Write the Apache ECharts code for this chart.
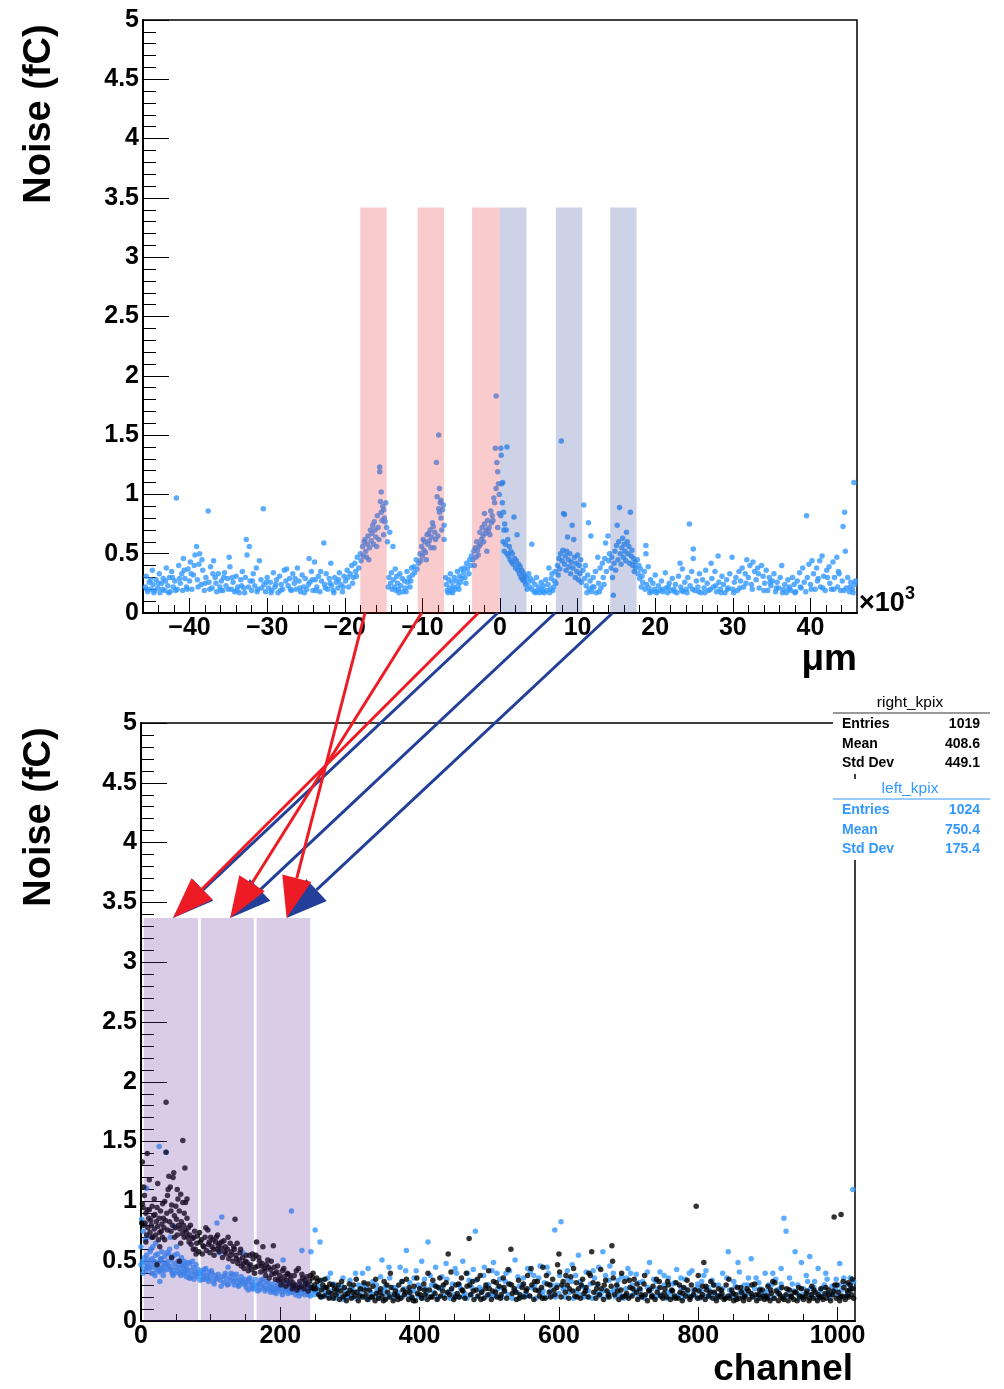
<!DOCTYPE html>
<html><head><meta charset="utf-8">
<script src="https://cdn.jsdelivr.net/npm/echarts@6/dist/echarts.min.js"></script>
<style>html,body{margin:0;padding:0;background:#fff}#c{width:1004px;height:1389px}</style>
</head><body><div id="c"></div>
<script>
const FONT = '"Liberation Sans", Arial, Helvetica, sans-serif';

// ---- tick values ----
const topXMajor = [-40,-30,-20,-10,0,10,20,30,40];
const topXMinor = [-44,-42,-38,-36,-34,-32,-28,-26,-24,-22,-18,-16,-14,-12,-8,-6,-4,-2,2,4,6,8,12,14,16,18,22,24,26,28,32,34,36,38,42,44];
const botXMajor = [0,200,400,600,800,1000];
const botXMinor = [50,100,150,250,300,350,450,500,550,650,700,750,850,900,950];
const yMajor = [0,0.5,1,1.5,2,2.5,3,3.5,4,4.5,5];
const yMinor = [0.1,0.2,0.3,0.4,0.6,0.7,0.8,0.9,1.1,1.2,1.3,1.4,1.6,1.7,1.8,1.9,2.1,2.2,2.3,2.4,2.6,2.7,2.8,2.9,3.1,3.2,3.3,3.4,3.6,3.7,3.8,3.9,4.1,4.2,4.3,4.4,4.6,4.7,4.8,4.9];

// ---- shaded regions ----
const pinkBands = [[-18.0,-14.6],[-10.6,-7.2],[-3.6,0]];
const blueBands = [[0,3.4],[7.2,10.6],[14.2,17.6]];
const topBandHeight = 3.42;
const channelBands = [[4,82],[86,162],[166,243]];
const channelBandHeight = 3.37;

// ---- arrows: [start position (x10^3 um), target channel] ----
const redArrows = [[-17.4,209],[-10.1,128],[-2.8,46]];
const blueArrows = [[-0.3,46],[7.1,128],[14.5,209]];

// ---- stats ----
const statLabels = ['Entries','Mean','Std Dev'];
const rightStats = ['1019','408.6','449.1'];
const leftStats = ['1024','750.4','175.4'];

// ---- top panel: noise vs position (x10^3 um, fC) ----
const topPoints = [
[-45.7,0.22],[-45.6,0.31],[-45.4,0.18],[-45.2,0.26],[-45.0,0.2],[-44.8,0.36],[-44.7,0.24],[-44.5,0.19],[-44.3,0.28],[-44.1,0.21],[-43.9,0.33],[-43.8,0.17],[-43.6,0.25],[-43.4,0.29],[-43.2,0.19],[-43.0,0.38],[-42.8,0.23],[-42.6,0.3],[-42.5,0.18],[-42.3,0.35],[-42.1,0.22],[-41.9,0.27],[-41.7,0.97],[-41.6,0.2],[-41.4,0.4],[-41.2,0.25],[-41.0,0.33],[-40.9,0.19],[-40.8,0.46],[-40.6,0.29],[-40.4,0.22],[-40.2,0.37],[-40.0,0.27],[-39.9,0.43],[-39.7,0.2],[-39.5,0.32],[-39.3,0.49],[-39.1,0.56],[-39.0,0.28],[-38.8,0.41],[-38.7,0.5],[-38.5,0.24],[-38.3,0.36],[-38.1,0.19],[-37.9,0.3],[-37.6,0.86],[-37.5,0.26],[-37.3,0.39],[-37.1,0.21],[-36.9,0.44],[-36.7,0.3],[-36.5,0.18],[-36.3,0.33],[-36.1,0.22],[-35.9,0.27],[-35.7,0.19],[-35.5,0.34],[-35.3,0.23],[-35.1,0.29],
[-34.9,0.47],[-34.8,0.39],[-34.6,0.2],[-34.4,0.26],[-34.2,0.18],[-34.0,0.31],[-33.8,0.22],[-33.6,0.17],[-33.4,0.28],[-33.2,0.35],[-33.0,0.21],[-32.8,0.3],[-32.7,0.62],[-32.6,0.49],[-32.3,0.56],[-32.2,0.27],[-32.0,0.19],[-31.8,0.33],[-31.6,0.23],[-31.4,0.38],[-31.2,0.2],[-31.0,0.44],[-30.8,0.28],[-30.5,0.88],[-30.4,0.24],[-30.2,0.18],[-30.0,0.3],[-29.8,0.21],[-29.6,0.26],[-29.4,0.19],[-29.2,0.34],[-29.0,0.22],[-28.8,0.28],[-28.6,0.17],[-28.4,0.31],[-28.2,0.24],[-28.0,0.2],[-27.8,0.36],[-27.5,0.37],[-27.3,0.23],[-27.1,0.29],[-26.9,0.19],[-26.7,0.33],[-26.5,0.25],[-26.3,0.2],[-26.1,0.38],[-25.9,0.27],[-25.7,0.18],[-25.5,0.32],[-25.3,0.22],[-25.1,0.29],[-24.9,0.2],[-24.6,0.46],[-24.5,0.26],[-24.3,0.35],[-24.1,0.19],[-23.9,0.43],[-23.8,0.28],[-23.6,0.22],[-23.4,0.31],[-23.2,0.18],[-23.0,0.27],[-22.7,0.59],[-22.6,0.24],[-22.4,0.33],[-22.2,0.2],[-22.0,0.29],[-21.8,0.42],[-21.7,0.23],[-21.5,0.19],[-21.3,0.3],[-21.1,0.26],[-20.9,0.21],[-20.7,0.34],[-20.5,0.24],[-20.3,0.18],[-20.1,0.31],
[-19.9,0.27],[-19.7,0.36],[-19.5,0.22],[-19.3,0.33],[-19.1,0.4],[-18.9,0.3],[-18.7,0.42],[-18.6,0.35],[-18.4,0.47],[-18.2,0.38],[-18.0,0.5],[-17.9,0.44],
[-17.7,0.56],[-17.6,0.48],[-17.5,0.6],[-17.4,0.62],[-17.3,0.52],[-17.2,0.47],[-17.1,0.58],[-17.0,0.65],[-16.9,0.45],[-16.8,0.55],[-16.7,0.7],[-16.6,0.61],[-16.5,0.67],[-16.4,0.74],[-16.3,0.58],[-16.2,0.77],[-16.1,0.7],[-16.0,0.64],[-15.9,0.56],[-15.8,0.82],[-15.7,0.72],[-15.6,0.62],[-15.5,1.23],[-15.5,1.19],[-15.4,0.94],[-15.3,1.02],[-15.3,0.85],[-15.2,0.78],[-15.1,0.9],[-15.0,0.87],[-15.0,0.66],[-14.9,0.8],[-14.8,0.77],[-14.7,0.93],[-14.6,0.72],[-14.5,0.6],
[-14.3,0.3],[-14.2,0.68],[-14.1,0.25],[-14.0,0.34],[-13.9,0.2],[-13.8,0.56],[-13.7,0.28],[-13.6,0.22],[-13.5,0.37],[-13.4,0.19],[-13.3,0.31],[-13.2,0.25],[-13.0,0.17],[-12.9,0.33],[-12.8,0.23],[-12.6,0.29],[-12.5,0.18],[-12.3,0.27],[-12.2,0.21],[-12.0,0.35],[-11.9,0.26],[-11.7,0.3],[-11.6,0.22],[-11.4,0.38],[-11.3,0.32],[-11.1,0.39],[-11.0,0.34],[-10.8,0.45],[-10.7,0.37],[-10.5,0.42],
[-10.3,0.5],[-10.2,0.44],[-10.1,0.56],[-10.0,0.48],[-9.9,0.62],[-9.8,0.53],[-9.7,0.6],[-9.6,0.51],[-9.5,0.45],[-9.4,0.66],[-9.3,0.58],[-9.2,0.67],[-9.1,0.61],[-9.0,0.7],[-8.9,0.55],[-8.8,0.64],[-8.7,0.76],[-8.6,0.73],[-8.5,0.55],[-8.4,0.68],[-8.3,0.62],[-8.2,1.27],[-8.1,0.98],[-8.0,0.65],[-7.9,1.5],[-7.9,0.88],[-7.8,1.05],[-7.8,0.85],[-7.7,0.93],[-7.6,0.95],[-7.6,0.8],[-7.5,0.7],[-7.4,0.87],[-7.3,0.91],[-7.2,0.74],[-7.2,0.62],
[-7.0,0.3],[-6.9,0.24],[-6.8,0.19],[-6.7,0.17],[-6.6,0.28],[-6.5,0.21],[-6.4,0.33],[-6.3,0.18],[-6.2,0.26],[-6.0,0.22],[-5.9,0.3],[-5.8,0.2],[-5.6,0.27],[-5.5,0.35],[-5.4,0.23],[-5.2,0.31],[-5.1,0.26],[-5.0,0.37],[-4.9,0.29],[-4.7,0.34],[-4.6,0.38],[-4.5,0.3],[-4.3,0.42],[-4.2,0.37],[-4.0,0.33],[-3.9,0.45],[-3.8,0.4],[-3.7,0.48],
[-3.5,0.45],[-3.4,0.52],[-3.3,0.4],[-3.2,0.55],[-3.1,0.47],[-3.0,0.6],[-2.9,0.53],[-2.8,0.49],[-2.7,0.56],[-2.6,0.68],[-2.5,0.58],[-2.4,0.62],[-2.3,0.72],[-2.2,0.65],[-2.1,0.6],[-2.0,0.84],[-2.0,0.75],[-1.9,0.67],[-1.8,0.7],[-1.7,0.52],[-1.6,0.78],[-1.5,0.69],[-1.4,0.72],[-1.3,0.66],[-1.2,0.86],[-1.1,0.76],[-1.0,0.82],[-0.9,0.78],[-0.8,0.97],[-0.7,0.93],[-0.6,1.39],[-0.5,1.83],[-0.5,1.05],[-0.4,1.27],[-0.3,1.19],[-0.3,0.72],[-0.2,1.09],[-0.1,0.84],[-0.1,1.0],
[0.1,1.39],[0.1,0.82],[0.15,1.33],[0.2,1.09],[0.3,0.93],[0.35,1.1],[0.4,0.6],[0.45,0.85],[0.5,0.7],[0.55,0.52],[0.6,0.75],[0.7,0.58],[0.8,0.7],[0.9,1.4],[0.9,0.5],[1.0,0.62],[1.1,0.48],[1.2,0.56],[1.3,0.45],[1.4,0.52],[1.5,0.43],[1.6,0.5],[1.7,0.41],[1.8,0.81],[1.9,0.46],[2.0,0.38],[2.1,0.44],[2.2,0.66],[2.3,0.36],[2.4,0.41],[2.5,0.33],[2.6,0.39],[2.7,0.3],[2.8,0.36],[2.9,0.28],[3.0,0.34],[3.1,0.27],[3.2,0.31],[3.3,0.24],[3.4,0.3],
[3.6,0.26],[3.7,0.33],[3.8,0.22],[3.9,0.29],[4.1,0.58],[4.1,0.2],[4.2,0.27],[4.4,0.18],[4.5,0.24],[4.7,0.3],[4.8,0.19],[5.0,0.22],[5.1,0.17],[5.3,0.26],[5.4,0.2],[5.6,0.23],[5.7,0.17],[5.9,0.28],[6.0,0.19],[6.2,0.24],[6.3,0.38],[6.5,0.2],[6.6,0.29],[6.7,0.33],[6.9,0.22],[7.0,0.27],[7.1,0.35],[7.2,0.25],
[7.4,0.4],[7.5,0.32],[7.6,0.46],[7.7,0.37],[7.8,0.5],[7.9,1.45],[8.0,0.44],[8.1,0.53],[8.2,0.84],[8.3,0.83],[8.3,0.41],[8.4,0.48],[8.5,0.36],[8.6,0.52],[8.7,0.64],[8.8,0.45],[8.9,0.39],[9.0,0.5],[9.1,0.33],[9.2,0.43],[9.3,0.74],[9.4,0.38],[9.5,0.62],[9.6,0.47],[9.7,0.3],[9.8,0.42],[9.9,0.35],[10.0,0.49],[10.1,0.28],[10.2,0.4],[10.3,0.33],[10.4,0.45],[10.5,0.26],
[10.7,0.36],[10.8,0.91],[10.9,0.29],[11.0,0.4],[11.1,0.23],[11.3,0.32],[11.4,0.76],[11.5,0.2],[11.6,0.27],[11.7,0.65],[11.8,0.18],[12.0,0.3],[12.1,0.22],[12.3,0.35],[12.4,0.17],[12.6,0.47],[12.7,0.25],[12.9,0.38],[13.0,0.21],[13.2,0.42],[13.3,0.3],[13.5,0.46],[13.6,0.59],[13.7,0.35],[13.9,0.65],[14.0,0.44],[14.1,0.5],
[14.3,0.38],[14.4,0.47],[14.5,0.3],[14.6,0.15],[14.7,0.42],[14.8,0.52],[14.9,0.36],[15.0,0.57],[15.1,0.74],[15.2,0.45],[15.3,0.6],[15.4,0.89],[15.5,0.5],[15.6,0.41],[15.7,0.55],[15.8,0.63],[15.9,0.47],[16.0,0.58],[16.1,0.52],[16.2,0.44],[16.3,0.68],[16.4,0.6],[16.5,0.5],[16.6,0.56],[16.7,0.42],[16.8,0.85],[16.9,0.48],[17.0,0.53],[17.1,0.4],[17.2,0.46],[17.3,0.35],[17.4,0.43],[17.5,0.38],
[17.7,0.45],[17.8,0.33],[17.9,0.4],[18.0,0.29],[18.1,0.37],[18.3,0.31],[18.4,0.26],[18.6,0.35],[18.8,0.57],[18.8,0.5],[18.9,0.24],[19.1,0.39],[19.2,0.21],[19.4,0.28],[19.5,0.18],[19.7,0.25],[19.9,0.2],[20.0,0.32],[20.2,0.17],[20.4,0.23],[20.6,0.19],[20.8,0.27],[21.0,0.18],[21.3,0.34],[21.4,0.21],[21.6,0.17],[21.8,0.25],[22.0,0.19],[22.2,0.29],[22.4,0.2],[22.6,0.24],[22.8,0.17],[23.0,0.31],[23.2,0.42],[23.3,0.22],[23.5,0.37],[23.6,0.18],[23.8,0.26],[24.0,0.2],[24.2,0.3],[24.4,0.75],[24.5,0.23],[24.7,0.35],[24.9,0.54],[24.9,0.46],[25.1,0.19],[25.3,0.27],[25.5,0.22],[25.7,0.33],[25.9,0.17],[26.1,0.28],[26.3,0.21],[26.5,0.36],[26.7,0.25],[26.9,0.19],[27.2,0.42],[27.3,0.29],[27.5,0.22],[27.7,0.35],[27.9,0.18],[28.1,0.48],[28.2,0.26],[28.4,0.2],[28.6,0.31],[28.8,0.24],[29.0,0.17],[29.2,0.28],[29.4,0.21],[29.6,0.33],[29.9,0.47],[30.0,0.2],[30.2,0.26],[30.4,0.3],[30.6,0.19],[30.8,0.35],[31.0,0.27],[31.2,0.38],[31.4,0.22],[31.6,0.33],[31.8,0.45],[32.0,0.3],[32.2,0.4],[32.4,0.24],[32.6,0.43],[32.8,0.35],[33.0,0.28],[33.2,0.38],[33.4,0.21],[33.7,0.4],[33.9,0.31],[34.1,0.25],[34.3,0.36],[34.5,0.19],[34.7,0.3],[34.9,0.23],[35.1,0.27],[35.3,0.33],[35.5,0.18],[35.7,0.26],[35.9,0.21],[36.1,0.3],[36.3,0.4],[36.5,0.2],[36.7,0.24],[36.9,0.17],[37.1,0.28],[37.3,0.22],[37.5,0.19],[37.7,0.3],[37.9,0.24],[38.1,0.18],[38.3,0.27],[38.6,0.34],[38.8,0.21],[39.0,0.38],[39.2,0.26],[39.5,0.82],[39.6,0.3],[39.8,0.41],[40.0,0.24],[40.2,0.44],[40.4,0.33],[40.6,0.2],[40.8,0.38],[41.0,0.29],[41.2,0.44],[41.3,0.22],[41.5,0.48],[41.7,0.31],[41.9,0.19],[42.1,0.36],[42.4,0.39],[42.5,0.25],[42.7,0.2],[42.9,0.43],[43.1,0.3],[43.4,0.47],[43.5,0.22],[43.7,0.33],[43.9,0.19],[44.1,0.27],[44.2,0.73],[44.4,0.85],[44.5,0.52],[44.6,0.21],[44.8,0.3],[45.0,0.18],[45.2,0.26],[45.4,0.2],[45.6,1.1],[45.7,0.24],[45.8,0.27],
[-45.5,0.2],[-45.0,0.28],[-44.6,0.17],[-44.0,0.25],[-43.5,0.2],[-43.1,0.27],[-42.7,0.17],[-42.2,0.3],[-41.8,0.19],[-41.3,0.29],[-40.7,0.36],[-40.3,0.2],[-39.8,0.33],[-39.4,0.4],[-38.9,0.22],[-38.4,0.45],[-38.0,0.25],[-37.4,0.2],[-37.0,0.33],[-36.6,0.25],[-36.0,0.19],[-35.6,0.3],[-35.0,0.2],[-34.5,0.3],[-33.9,0.19],[-33.3,0.23],[-32.9,0.17],[-32.4,0.22],[-31.9,0.27],[-31.3,0.18],[-30.7,0.21],[-30.1,0.26],[-29.5,0.17],[-28.9,0.24],[-28.3,0.19],[-27.6,0.27],[-27.0,0.2],[-26.4,0.29],[-25.8,0.21],[-25.2,0.17],[-24.7,0.24],[-24.2,0.28],[-23.7,0.19],[-23.1,0.35],[-22.5,0.21],[-21.9,0.25],[-21.4,0.17],[-20.8,0.28],[-20.2,0.22],[-19.6,0.3],[-19.0,0.25],[-18.5,0.31],[-14.4,0.22],[-13.1,0.2],[-12.1,0.18],[-11.5,0.27],[-6.1,0.17],[-5.3,0.2],[-4.4,0.25],[3.5,0.2],[4.6,0.17],[5.5,0.18],[6.4,0.17],[6.8,0.19],[11.2,0.17],[11.9,0.22],[12.8,0.18],[13.4,0.24],[18.2,0.22],[18.7,0.2],[19.3,0.17],[20.1,0.18],[20.9,0.2],[21.7,0.22],[22.5,0.18],[23.4,0.19],[24.1,0.17],[24.8,0.2],[25.6,0.18],[26.4,0.17],[27.1,0.2],[27.8,0.23],[28.5,0.17],[29.3,0.2],[30.1,0.17],[30.9,0.21],[31.7,0.25],[32.5,0.2],[33.3,0.33],[34.0,0.19],[34.8,0.26],[35.6,0.21],[36.4,0.17],[37.2,0.2],[38.0,0.17],[38.7,0.22],[39.4,0.18],[40.1,0.2],[40.9,0.27],[41.6,0.21],[42.2,0.3],[43.0,0.2],[43.6,0.35],[44.3,0.19],[45.1,0.22],[45.5,0.17]
];

// ---- bottom panel: right_kpix (black), [channel, fC] ----
const rightKpix = [
[1,0.82],[2,1.33],[3,0.95],[4,0.8],[5,1.05],[6,0.82],[7,0.9],[8,0.72],[9,1.4],[9,0.93],[10,0.78],[11,0.86],[12,0.93],[13,0.74],[14,0.84],[15,0.8],[16,0.96],[17,0.7],[18,0.88],[19,0.77],[20,0.89],[21,0.72],[22,0.83],[23,0.95],[23,0.47],[24,0.79],[25,0.68],[26,0.86],[27,0.74],[28,0.92],[29,0.75],[30,0.81],[31,0.7],[32,0.86],[33,0.78],[34,1.0],[35,0.84],[36,1.83],[36,1.41],[37,0.9],[38,0.76],[39,1.1],[40,1.21],[41,0.83],[42,1.12],[43,0.75],[44,0.97],[44,0.53],[45,0.8],[46,1.2],[47,1.24],[48,0.88],[49,0.78],[50,0.96],[51,0.85],[52,0.72],[53,1.02],[54,0.8],[55,0.92],[55,0.5],[56,0.77],[57,1.06],[58,0.83],[59,0.73],[60,1.51],[60,0.99],[61,0.8],[62,0.7],[63,1.28],[63,0.76],[64,0.99],[65,0.74],[66,0.86],[67,0.7],[68,0.78],[69,0.66],
[70,0.72],[72,0.64],[74,0.69],[75,0.6],[77,0.75],[78,0.6],[80,0.65],[81,0.71],[83,0.58],[85,0.66],[87,0.68],[88,0.56],[90,0.62],[92,0.7],[94,0.59],[96,0.76],[97,0.64],[99,0.57],[100,0.7],[102,0.62],[103,0.68],[105,0.55],[107,0.66],[109,0.6],[110,0.72],[112,0.58],[113,0.65],[115,0.61],[117,0.53],[119,0.67],[121,0.62],[122,0.56],[124,0.6],[126,0.52],[128,0.65],[130,0.58],[132,0.5],[133,0.62],[135,0.85],[136,0.55],[138,0.65],[139,0.48],
[141,0.51],[142,0.57],[144,0.46],[146,0.53],[148,0.44],[150,0.5],[152,0.49],[154,0.42],[156,0.55],[157,0.47],[159,0.43],[161,0.52],[163,0.4],[165,0.55],[166,0.66],[168,0.46],[170,0.5],[172,0.41],[174,0.48],[175,0.62],[177,0.44],[179,0.38],[180,0.47],[182,0.51],[184,0.36],[186,0.43],[188,0.39],[190,0.63],[191,0.45],[193,0.35],[195,0.41],[197,0.34],[199,0.38],[201,0.3],[203,0.42],[204,0.33],[206,0.37],[208,0.29],[210,0.4],[211,0.39],[213,0.31],[215,0.35],[217,0.27],[218,0.32],[220,0.38],[222,0.3],[224,0.26],[226,0.44],[228,0.33],[230,0.29],[232,0.36],[234,0.27],[236,0.31],[238,0.37],[240,0.25],[242,0.33],[244,0.28],[246,0.36],[247,0.4],[249,0.3],
[251,0.27],[253,0.33],[255,0.22],[257,0.34],[259,0.26],[261,0.3],[263,0.21],[265,0.28],[267,0.28],[269,0.24],[271,0.31],[274,0.23],[276,0.19],[278,0.27],[280,0.22],[283,0.3],[285,0.18],[287,0.25],[290,0.2],[292,0.28],[295,0.17],[297,0.23],[300,0.26],[302,0.19],[305,0.3],[307,0.21],[310,0.24],[312,0.17],[315,0.27],[318,0.2],[320,0.32],[323,0.22],[325,0.18],[328,0.26],[330,0.2],[333,0.29],[336,0.17],[338,0.23],[341,0.19],[344,0.27],[346,0.21],[349,0.33],[351,0.18],[354,0.24],[357,0.2],[359,0.28],[362,0.17],[365,0.25],[368,0.21],[370,0.3],[373,0.19],[376,0.26],[378,0.22],[381,0.35],[384,0.18],[386,0.24],[389,0.2],[392,0.29],[394,0.17],[397,0.23],[400,0.27],[403,0.19],[406,0.31],[408,0.22],[411,0.18],[414,0.26],[416,0.2],[419,0.34],[422,0.23],[425,0.18],[427,0.28],[430,0.21],[433,0.25],[436,0.19],[438,0.32],[441,0.56],[443,0.22],[446,0.27],[449,0.18],[452,0.3],[454,0.23],[457,0.2],[460,0.36],[462,0.25],[465,0.19],[468,0.29],[471,0.69],[473,0.22],[476,0.33],[478,0.18],[481,0.26],[484,0.21],[487,0.38],[489,0.24],[492,0.19],[495,0.3],[498,0.22],[500,0.27],[503,0.18],[506,0.33],[509,0.24],[511,0.2],[514,0.29],[517,0.22],[520,0.36],[522,0.25],[525,0.19],[528,0.31],[531,0.6],[533,0.23],[536,0.27],[539,0.18],[542,0.34],[544,0.22],[547,0.28],[550,0.2],[553,0.25],[555,0.38],[558,0.21],[561,0.3],[564,0.18],[566,0.26],[569,0.33],[572,0.21],[575,0.28],[577,0.45],[580,0.19],[583,0.31],[586,0.24],[588,0.2],[591,0.35],[594,0.22],[597,0.28],[600,0.56],[601,0.41],[603,0.2],[606,0.33],[609,0.24],[612,0.3],[614,0.19],[617,0.37],[620,0.25],[623,0.21],[625,0.32],[628,0.27],[631,0.19],[634,0.35],[636,0.23],[639,0.28],[642,0.2],[645,0.38],[647,0.58],[650,0.24],[653,0.19],[656,0.31],[658,0.22],[661,0.27],[664,0.18],[667,0.34],[669,0.25],[672,0.2],[675,0.29],[676,0.63],[677,0.5],[680,0.22],[683,0.3],[686,0.18],[689,0.26],[691,0.2],[694,0.33],[697,0.23],[700,0.19],[702,0.28],[705,0.21],[708,0.35],[711,0.24],[713,0.18],[716,0.27],[719,0.2],[722,0.31],[724,0.22],[727,0.17],[730,0.26],[733,0.2],[735,0.29],[738,0.18],[741,0.24],[744,0.33],[746,0.21],[749,0.19],[752,0.27],[755,0.2],[757,0.3],[760,0.18],[763,0.25],[766,0.21],[768,0.32],[771,0.19],[774,0.24],[777,0.17],[779,0.28],[782,0.21],[785,0.26],[788,0.18],[790,0.3],[793,0.22],[797,0.96],[799,0.19],[801,0.25],[804,0.2],[806,0.29],[808,0.49],[810,0.18],[812,0.26],[815,0.21],[818,0.33],[821,0.19],[823,0.24],[826,0.17],[829,0.27],[832,0.2],[834,0.23],[837,0.18],[840,0.3],[843,0.21],[845,0.19],[848,0.26],[851,0.17],[854,0.22],[856,0.28],[859,0.19],[862,0.24],[865,0.17],[867,0.21],[870,0.27],[873,0.18],[876,0.23],[878,0.2],[881,0.31],[884,0.17],[887,0.22],[889,0.19],[892,0.26],[895,0.18],[898,0.21],[900,0.29],[903,0.17],[905,0.23],[907,0.33],[909,0.19],[912,0.25],[915,0.17],[918,0.21],[920,0.28],[923,0.18],[926,0.22],[929,0.17],[931,0.26],[934,0.2],[937,0.18],[940,0.24],[942,0.17],[945,0.21],[948,0.27],[951,0.18],[953,0.2],[956,0.25],[959,0.17],[962,0.22],[963,0.29],[965,0.19],[968,0.24],[971,0.17],[974,0.2],[976,0.27],[979,0.18],[982,0.23],[984,0.19],[987,0.26],[990,0.17],[993,0.22],[995,0.87],[996,0.3],[998,0.19],[1001,0.24],[1003,0.17],[1005,0.89],[1006,0.21],[1009,0.28],[1011,0.18],[1014,0.25],[1015,0.32],[1016,0.2],[1018,0.3],[1020,0.22],[1022,0.27],[1023,0.19],
[2,0.98],[4,1.12],[7,0.66],[12,1.18],[16,0.7],[19,1.02],[24,1.15],[27,0.62],[31,0.98],[34,0.68],[38,1.05],[43,0.92],[48,0.7],[52,1.1],[57,0.65],[62,0.9],[66,1.02],[71,0.8],[76,0.7],[79,0.56],[84,0.74],[89,0.63],[93,0.78],[98,0.66],[104,0.6],[108,0.7],[111,0.63],[116,0.66],[120,0.58],[125,0.7],[129,0.55],[134,0.6],[137,0.52],[143,0.6],[147,0.48],[151,0.55],[155,0.46],[160,0.56],[164,0.45],[169,0.53],[173,0.46],[178,0.42],[183,0.45],[187,0.5],[192,0.4],[196,0.46],[200,0.35],[205,0.44],[209,0.34],[214,0.38],[219,0.29],[223,0.42],[227,0.28],[231,0.39],[235,0.34],[239,0.3],[243,0.38],[248,0.27],
[252,0.36],[258,0.2],[264,0.35],[270,0.19],[275,0.3],[281,0.26],[288,0.33],[293,0.22],[299,0.31],[304,0.24],[309,0.35],[314,0.21],[321,0.26],[326,0.31],[332,0.2],[337,0.35],[343,0.24],[348,0.17],[353,0.3],[358,0.4],[364,0.22],[369,0.18],[375,0.33],[380,0.24],[385,0.28],[391,0.17],[396,0.36],[401,0.22],[407,0.26],[412,0.4],[418,0.2],[423,0.29],[429,0.36],[434,0.3],[440,0.24],[445,0.41],[451,0.2],[456,0.31],[461,0.26],[467,0.4],[472,0.3],[477,0.25],[483,0.35],[488,0.18],[494,0.27],[499,0.42],[505,0.25],[510,0.32],[516,0.19],[521,0.28],[527,0.43],[532,0.3],[538,0.24],[543,0.19],[549,0.31],[554,0.27],[560,0.44],[565,0.33],[571,0.25],[576,0.19],[582,0.38],[587,0.3],[593,0.26],[598,0.47],[604,0.3],[610,0.38],[615,0.27],[621,0.44],[626,0.2],[632,0.3],[638,0.25],[643,0.4],[649,0.32],[654,0.27],[660,0.43],[665,0.3],[671,0.22],[678,0.36],[684,0.25],[690,0.4],[695,0.21],[701,0.34],[706,0.27],[712,0.31],[718,0.22],[723,0.38],[729,0.25],[734,0.21],[740,0.35],[745,0.28],[751,0.23],[756,0.33],[762,0.26],[767,0.19],[773,0.3],[778,0.23],[784,0.34],[789,0.2],[795,0.26],[800,0.38],[806,0.22],[811,0.29],[817,0.24],[822,0.3],[828,0.21],[833,0.26],[839,0.19],[844,0.35],[850,0.23],[855,0.18],[861,0.28],[866,0.2],[872,0.25],[877,0.3],[883,0.22],[888,0.26],[894,0.21],[899,0.19],[904,0.26],[910,0.32],[916,0.23],[921,0.19],[927,0.27],[933,0.21],[938,0.24],[944,0.28],[949,0.2],[955,0.23],[960,0.19],[966,0.26],[972,0.22],[977,0.2],[983,0.28],[988,0.22],[994,0.25],[999,0.3],[1004,0.2],[1008,0.33],[1013,0.21],[1017,0.26],[1021,0.35]
];

// ---- bottom panel: left_kpix (blue), [channel, fC] ----
const leftKpix = [
[0,0.47],[1,0.85],[2,0.5],[3,0.75],[4,0.44],[5,0.53],[6,0.49],[7,0.42],[8,1.11],[8,0.55],[9,0.46],[10,0.7],[11,0.51],[12,0.44],[13,0.58],[14,0.48],[15,0.4],[16,0.52],[17,0.62],[18,0.45],[19,0.5],[20,0.38],[21,0.55],[22,0.47],[23,0.43],[24,0.56],[25,0.49],[26,1.46],[27,0.41],[27,0.33],[28,0.52],[29,0.45],[30,0.58],[31,0.44],[32,0.49],[33,0.42],[34,0.54],[35,0.47],[36,1.41],[37,0.57],[38,0.43],[39,0.5],[40,0.46],[41,0.6],[42,0.7],[43,0.44],[44,0.52],[45,0.4],[46,0.38],[47,0.48],[48,0.55],[49,0.79],[50,0.45],[51,0.62],[52,0.42],[53,0.5],[54,0.47],[55,0.4],[56,0.5],[57,0.44],[58,0.53],[59,0.41],[60,0.46],[61,0.39],[62,0.5],[63,0.43],[64,0.47],[65,0.37],[66,0.44],[67,0.4],[68,0.49],[69,0.36],[70,0.48],[72,0.42],[73,0.38],[75,0.45],[76,0.35],[78,0.41],[79,0.47],[81,0.37],[82,0.43],[84,0.39],[85,0.34],[87,0.42],[89,0.37],[90,0.4],[92,0.35],[93,0.44],[95,0.38],[97,0.33],[98,0.41],
[100,0.36],[102,0.4],[104,0.33],[106,0.38],[108,0.35],[109,0.82],[111,0.39],[113,0.57],[114,0.34],[116,0.87],[117,0.37],[119,0.32],[121,0.4],[123,0.35],[125,0.45],[126,0.31],[128,0.37],[130,0.34],[132,0.39],[134,0.3],[136,0.36],[138,0.33],[140,0.29],[142,0.34],[144,0.37],[146,0.57],[147,0.31],[149,0.35],[151,0.28],[153,0.33],[154,0.26],[156,0.36],[158,0.3],[160,0.32],[162,0.27],[164,0.35],[166,0.29],[168,0.31],[170,0.26],[172,0.34],[174,0.28],[176,0.3],[178,0.25],[180,0.33],[182,0.27],[184,0.29],[186,0.24],[188,0.26],[190,0.31],[192,0.27],[194,0.23],[196,0.3],[198,0.26],[200,0.28],[202,0.24],[204,0.51],[205,0.29],[207,0.25],[209,0.27],[211,0.23],[213,0.3],[214,0.26],[216,0.92],[218,0.24],[220,0.28],[222,0.22],[224,0.27],[226,0.25],[228,0.3],[230,0.23],[231,0.59],[233,0.26],[235,0.22],[237,0.28],[239,0.24],[241,0.27],[243,0.21],[244,0.58],[246,0.25],[248,0.22],[250,0.76],[252,0.26],[254,0.23],[257,0.66],[258,0.21],[260,0.2],
[262,0.27],[265,0.23],[268,0.36],[270,0.2],[273,0.25],[276,0.31],[279,0.19],[282,0.24],[285,0.21],[288,0.29],[291,0.18],[294,0.26],[297,0.22],[300,0.34],[303,0.2],[306,0.25],[309,0.19],[312,0.3],[315,0.23],[318,0.4],[321,0.2],[324,0.27],[327,0.18],[330,0.24],[333,0.33],[336,0.21],[339,0.26],[342,0.19],[346,0.51],[348,0.23],[351,0.29],[354,0.2],[357,0.36],[360,0.22],[363,0.19],[366,0.28],[369,0.24],[372,0.45],[375,0.2],[378,0.27],[381,0.59],[383,0.22],[386,0.32],[389,0.19],[392,0.25],[395,0.42],[398,0.21],[401,0.28],[404,0.19],[407,0.35],[410,0.23],[412,0.66],[414,0.2],[417,0.3],[420,0.24],[423,0.45],[426,0.19],[429,0.27],[432,0.37],[435,0.21],[438,0.48],[441,0.24],[444,0.19],[447,0.31],[450,0.22],[453,0.4],[456,0.2],[459,0.27],[462,0.5],[465,0.23],[468,0.19],[471,0.34],[474,0.22],[477,0.43],[480,0.75],[483,0.2],[486,0.28],[489,0.24],[492,0.38],[495,0.2],[498,0.3],[501,0.22],[504,0.42],[506,0.49],[509,0.21],[512,0.27],[515,0.35],[518,0.2],[521,0.25],[524,0.4],[527,0.22],[530,0.31],[533,0.19],[537,0.51],[540,0.24],[543,0.29],[546,0.2],[549,0.36],[552,0.23],[555,0.44],[558,0.21],[561,0.28],[564,0.38],[567,0.19],[570,0.26],[573,0.46],[576,0.22],[579,0.32],[582,0.2],[585,0.4],[588,0.25],[591,0.21],[594,0.76],[597,0.3],[600,0.23],[603,0.83],[606,0.27],[609,0.2],[612,0.42],[615,0.24],[618,0.33],[621,0.19],[624,0.38],[628,0.55],[630,0.22],[633,0.29],[636,0.2],[639,0.41],[642,0.25],[645,0.31],[648,0.19],[651,0.36],[654,0.23],[657,0.45],[660,0.21],[663,0.58],[666,0.26],[669,0.2],[672,0.34],[675,0.24],[678,0.4],[681,0.2],[684,0.29],[687,0.22],[690,0.37],[693,0.19],[696,0.27],[699,0.44],[702,0.21],[705,0.3],[708,0.23],[711,0.39],[714,0.2],[717,0.26],[720,0.33],[723,0.19],[727,0.28],[730,0.49],[733,0.22],[736,0.35],[739,0.2],[742,0.27],[745,0.41],[748,0.21],[751,0.3],[754,0.19],[757,0.36],[760,0.24],[763,0.2],[766,0.32],[769,0.43],[772,0.22],[775,0.28],[778,0.19],[781,0.35],[784,0.23],[787,0.2],[791,0.42],[793,0.26],[796,0.21],[799,0.31],[802,0.19],[805,0.25],[808,0.38],[811,0.21],[814,0.28],[817,0.2],[820,0.34],[823,0.23],[826,0.19],[829,0.3],[832,0.22],[835,0.4],[838,0.2],[843,0.58],[845,0.26],[848,0.21],[851,0.33],[854,0.19],[857,0.49],[860,0.24],[863,0.2],[866,0.3],[869,0.22],[872,0.36],[876,0.52],[878,0.21],[881,0.27],[884,0.19],[887,0.32],[890,0.23],[893,0.2],[896,0.4],[899,0.25],[902,0.21],[905,0.3],[908,0.19],[911,0.35],[914,0.23],[917,0.27],[919,0.44],[921,0.2],[923,0.86],[926,0.75],[929,0.26],[932,0.21],[935,0.31],[939,0.58],[942,0.23],[945,0.19],[948,0.49],[951,0.27],[954,0.21],[957,0.33],[960,0.54],[963,0.22],[966,0.28],[969,0.19],[972,0.44],[975,0.25],[978,0.21],[981,0.3],[983,0.4],[986,0.23],[989,0.19],[992,0.29],[995,0.24],[998,0.35],[1001,0.21],[1003,0.48],[1006,0.26],[1009,0.2],[1012,0.31],[1015,0.23],[1018,0.36],[1020,0.27],[1022,1.1],[1023,0.33],
[0,0.62],[3,0.4],[6,0.68],[10,0.45],[14,0.6],[18,0.4],[21,0.65],[25,0.42],[29,0.52],[32,0.38],[37,0.47],[40,0.56],[44,0.42],[48,0.4],[52,0.56],[57,0.38],[61,0.48],[66,0.42],[71,0.36],[74,0.5],[78,0.39],[83,0.4],[88,0.35],[91,0.43],[96,0.36],[101,0.42],[105,0.31],[110,0.36],[115,0.29],[120,0.38],[124,0.3],[129,0.4],[133,0.33],[137,0.39],[141,0.3],[145,0.33],[150,0.31],[155,0.35],[159,0.27],[163,0.3],[167,0.25],[171,0.31],[175,0.35],[179,0.27],[183,0.32],[187,0.28],[191,0.24],[195,0.27],[199,0.31],[203,0.22],[206,0.27],[210,0.32],[215,0.24],[219,0.3],[223,0.25],[227,0.21],[232,0.26],[236,0.32],[240,0.22],[245,0.29],[249,0.25],[255,0.29],[261,0.34],[267,0.22],[272,0.4],[278,0.3],[284,0.27],[290,0.36],[296,0.2],[302,0.28],[308,0.4],[314,0.27],[320,0.3],[326,0.44],[332,0.22],[338,0.3],[344,0.37],[350,0.26],[356,0.45],[362,0.28],[368,0.22],[374,0.33],[380,0.42],[386,0.26],[392,0.36],[398,0.3],[403,0.5],[409,0.27],[415,0.38],[421,0.3],[427,0.2],[433,0.28],[439,0.35],[445,0.26],[451,0.44],[457,0.3],[463,0.21],[469,0.4],[475,0.28],[481,0.34],[487,0.26],[493,0.45],[499,0.3],[505,0.21],[511,0.4],[517,0.28],[523,0.33],[529,0.42],[535,0.26],[541,0.37],[547,0.3],[553,0.21],[559,0.41],[565,0.3],[571,0.36],[577,0.25],[583,0.45],[589,0.3],[595,0.2],[601,0.38],[607,0.28],[613,0.35],[619,0.47],[625,0.25],[631,0.33],[637,0.28],[643,0.2],[649,0.42],[655,0.3],[661,0.24],[667,0.38],[673,0.46],[679,0.26],[685,0.34],[691,0.21],[697,0.36],[703,0.4],[709,0.26],[715,0.32],[721,0.21],[727,0.41],[733,0.27],[739,0.33],[745,0.22],[751,0.38],[757,0.24],[763,0.31],[769,0.2],[775,0.36],[781,0.27],[787,0.4],[793,0.22],[799,0.28],[805,0.33],[811,0.42],[817,0.25],[823,0.3],[829,0.21],[835,0.27],[841,0.36],[847,0.22],[853,0.29],[859,0.41],[865,0.25],[871,0.3],[877,0.21],[883,0.36],[889,0.27],[895,0.22],[901,0.3],[907,0.4],[913,0.26],[919,0.31],[925,0.21],[931,0.36],[937,0.25],[943,0.3],[949,0.22],[955,0.38],[961,0.27],[967,0.33],[973,0.21],[979,0.28],[985,0.35],[991,0.22],[997,0.27],[1003,0.3],[1009,0.36],[1014,0.22],[1019,0.3]
];

// ---------------------------------------------------------------
const chart = echarts.init(document.getElementById('c'), null, {renderer:'canvas'});
const lblFont = {fontFamily: FONT, fontWeight: 'bold', fontSize: 25, color: '#000'};
const tickLine = {color: '#000', width: 1};
const fmtMinus = v => (v < 0 ? '\u2212' + Math.abs(v) : String(v));
const dotSize = 5.5;

function majorX(grid, min, max, ticks, len, fmt) {
  return {gridIndex: grid, type: 'value', min: min, max: max, position: 'bottom',
    axisLine: {show: true, onZero: false, lineStyle: {color: '#000', width: 2}},
    axisTick: {show: true, inside: true, length: len, customValues: ticks, lineStyle: tickLine},
    axisLabel: Object.assign({customValues: ticks, formatter: fmt, margin: 3}, lblFont),
    splitLine: {show: false}};
}
function minorX(grid, min, max, ticks, len) {
  return {gridIndex: grid, type: 'value', min: min, max: max, position: 'bottom',
    axisLine: {show: false, onZero: false},
    axisTick: {show: true, inside: true, length: len, customValues: ticks, lineStyle: tickLine},
    axisLabel: {show: false}, splitLine: {show: false}};
}
function majorY(grid) {
  return {gridIndex: grid, type: 'value', min: 0, max: 5, position: 'left',
    axisLine: {show: true, onZero: false, lineStyle: {color: '#000', width: 2}},
    axisTick: {show: true, inside: true, length: 26, customValues: yMajor, lineStyle: tickLine},
    axisLabel: Object.assign({customValues: yMajor, formatter: v => String(v), margin: 4}, lblFont),
    splitLine: {show: false}};
}
function minorY(grid) {
  return {gridIndex: grid, type: 'value', min: 0, max: 5, position: 'left',
    axisLine: {show: false, onZero: false},
    axisTick: {show: true, inside: true, length: 13, customValues: yMinor, lineStyle: tickLine},
    axisLabel: {show: false}, splitLine: {show: false}};
}
function bandSeries(xi, yi, data, height, color, z) {
  return {type: 'custom', xAxisIndex: xi, yAxisIndex: yi, z: z, silent: true,
    encode: {x: [0, 1]}, data: data,
    renderItem: function (params, api) {
      const p0 = api.coord([api.value(0), height]);
      const p1 = api.coord([api.value(1), 0]);
      return {type: 'rect', shape: {x: p0[0], y: p0[1], width: p1[0] - p0[0], height: p1[1] - p0[1]},
        style: {fill: color}};
    }};
}

chart.setOption({
  animation: false,
  backgroundColor: '#ffffff',
  grid: [
    {left: 143, top: 20, width: 714, height: 593, show: true, borderColor: '#000', borderWidth: 1.5, backgroundColor: 'rgba(0,0,0,0)'},
    {left: 141, top: 723, width: 714, height: 598, show: true, borderColor: '#000', borderWidth: 1.5, backgroundColor: 'rgba(0,0,0,0)'}
  ],
  xAxis: [
    majorX(0, -46, 46, topXMajor, 15, fmtMinus),
    minorX(0, -46, 46, topXMinor, 8),
    majorX(1, 0, 1025, botXMajor, 14, v => String(v)),
    minorX(1, 0, 1025, botXMinor, 7)
  ],
  yAxis: [majorY(0), minorY(0), majorY(1), minorY(1)],
  series: [
    {type: 'scatter', name: 'position', xAxisIndex: 0, yAxisIndex: 0, z: 2, data: topPoints,
      symbol: 'circle', symbolSize: dotSize, itemStyle: {color: '#3399ff'}, silent: true},
    bandSeries(0, 0, pinkBands, topBandHeight, 'rgba(230,30,40,0.23)', 5),
    bandSeries(0, 0, blueBands, topBandHeight, 'rgba(30,50,140,0.22)', 5),
    {type: 'scatter', name: 'left_kpix', xAxisIndex: 2, yAxisIndex: 2, z: 2, data: leftKpix,
      symbol: 'circle', symbolSize: dotSize, itemStyle: {color: '#3399ff'}, silent: true},
    {type: 'scatter', name: 'right_kpix', xAxisIndex: 2, yAxisIndex: 2, z: 3, data: rightKpix,
      symbol: 'circle', symbolSize: dotSize, itemStyle: {color: '#000000'}, silent: true},
    bandSeries(2, 2, channelBands, channelBandHeight, 'rgba(100,50,160,0.25)', 5)
  ]
});

// ---- annotations ----
const g = [];
function txt(x, y, s, opt) {
  g.push({type: 'text', x: x, y: y, z: 120, silent: true, rotation: opt.rot || 0,
    style: {text: s, fill: opt.color || '#000', font: (opt.weight || 'bold') + ' ' + opt.size + 'px ' + FONT,
      textAlign: opt.align || 'left', textVerticalAlign: opt.valign || 'middle'}});
}
// axis titles
txt(40, 114, 'Noise (fC)', {size: 38, align: 'center', rot: Math.PI / 2});
txt(40, 817, 'Noise (fC)', {size: 38, align: 'center', rot: Math.PI / 2});
txt(857, 660, '\u03bcm', {size: 37, align: 'right'});
txt(853, 1370, 'channel', {size: 37, align: 'right'});
txt(859, 604, '\u00d710', {size: 27});
txt(905, 594, '3', {size: 18});

// arrows
const headLen = 41, headHalf = 15;
function arrow(fromX, toCh, color, z) {
  const a = chart.convertToPixel({gridIndex: 0}, [fromX, 0]);
  const b = chart.convertToPixel({gridIndex: 1}, [toCh, channelBandHeight]);
  const dx = b[0] - a[0], dy = b[1] - a[1], L = Math.hypot(dx, dy);
  const ux = dx / L, uy = dy / L;
  const bx = b[0] - ux * headLen, by = b[1] - uy * headLen;
  g.push({type: 'line', z: z, silent: true, shape: {x1: a[0], y1: a[1], x2: bx, y2: by},
    style: {stroke: color, lineWidth: 3}});
  g.push({type: 'polygon', z: z, silent: true,
    shape: {points: [[b[0], b[1]], [bx - uy * headHalf, by + ux * headHalf], [bx + uy * headHalf, by - ux * headHalf]]},
    style: {fill: color}});
}
blueArrows.forEach(d => arrow(d[0], d[1], '#233f99', 50));
redArrows.forEach(d => arrow(d[0], d[1], '#ed1c24', 51));

// stats boxes
function statBox(top, title, vals, color) {
  g.push({type: 'rect', z: 110, silent: true, shape: {x: 833, y: top, width: 157, height: 81},
    style: {fill: '#fff'}});
  g.push({type: 'line', z: 111, silent: true, shape: {x1: 833, y1: top + 20, x2: 990, y2: top + 20},
    style: {stroke: color === '#000' ? '#333' : color, lineWidth: 1}});
  txt(910, top + 10, title, {size: 15.5, weight: 'normal', align: 'center', color: color});
  for (let i = 0; i < statLabels.length; i++) {
    const y = top + 31 + i * 19.7;
    txt(842, y, statLabels[i], {size: 14, color: color});
    txt(980, y, vals[i], {size: 14, color: color, align: 'right'});
  }
}
statBox(693, 'right_kpix', rightStats, '#000');
statBox(779, 'left_kpix', leftStats, '#3399ff');

chart.setOption({graphic: {elements: g}});
</script>
</body></html>
